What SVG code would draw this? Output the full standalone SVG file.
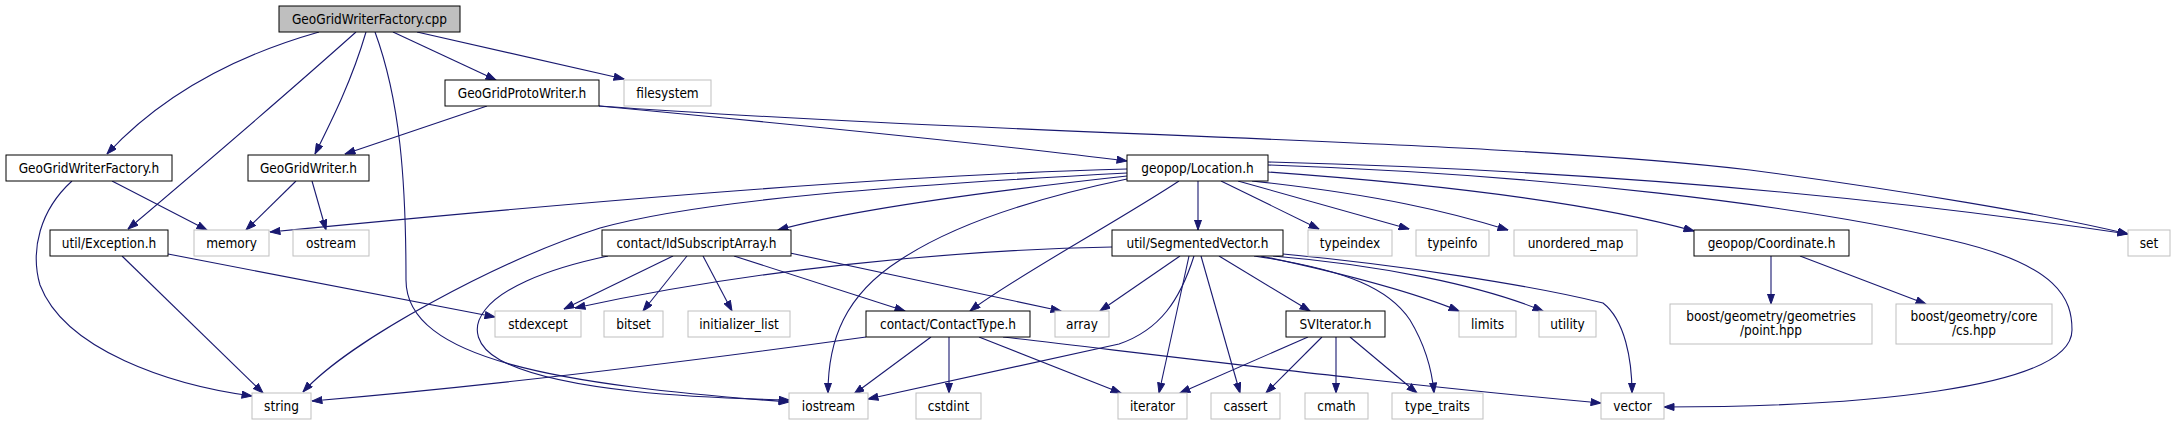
<svg xmlns="http://www.w3.org/2000/svg" width="2175" height="425" viewBox="0 0 2175 425">
<style>
.n rect{fill:#fff;stroke:#000;stroke-width:1}
.n.root rect{fill:#bfbfbf}
.n.ext rect{stroke:#bfbfbf}
.n text{font-family:"DejaVu Sans Condensed","Liberation Sans",sans-serif;font-size:13.5px;text-anchor:middle;fill:#000}
#edges path{fill:none;stroke:#191970;stroke-width:1.1;marker-end:url(#ah)}
</style>
<defs>
<marker id="ah" markerUnits="userSpaceOnUse" markerWidth="11" markerHeight="8" refX="10.5" refY="3.8" orient="auto">
<path d="M0.5,0.3 L10.5,3.8 L0.5,7.3 z" fill="#191970" stroke="#191970" stroke-width="1"/>
</marker>
</defs>
<rect width="2175" height="425" fill="#fff"/>
<g id="edges">
<path d="M319,32 C231,57 159,98 107,154"/>
<path d="M356,32 C300,82 180,185 128,229"/>
<path d="M366,32 C352,80 332,120 315,154"/>
<path d="M375,32 C400,100 406,180 406,280 C406,360 560,385 789,402"/>
<path d="M393,32 L496,80"/>
<path d="M417,32 L624,79"/>
<path d="M487,106 L345,154"/>
<path d="M599,106 C800,125 1000,145 1127,161"/>
<path d="M599,106 C1000,135 1500,140 1750,170 C1900,190 2050,215 2128,234"/>
<path d="M72,181 C40,210 30,250 40,285 C65,350 170,385 252,396"/>
<path d="M112,181 L207,230"/>
<path d="M296,181 L246,230"/>
<path d="M312,181 L326,230"/>
<path d="M122,256 L263,393"/>
<path d="M168,254 L495,317"/>
<path d="M1127,169 C900,175 600,200 270,232"/>
<path d="M1127,173 C900,185 700,200 600,228 C500,260 350,340 303,392"/>
<path d="M1127,176 C1000,190 850,210 778,230"/>
<path d="M1127,179 C1050,195 960,220 900,260 C845,295 828,340 828,393"/>
<path d="M1179,181 C1120,220 1010,280 970,311"/>
<path d="M1198,181 L1198,230"/>
<path d="M1221,181 L1319,229"/>
<path d="M1238,181 L1409,229"/>
<path d="M1252,181 C1380,195 1450,212 1508,230"/>
<path d="M1268,172 C1450,185 1600,205 1694,231"/>
<path d="M1268,165 C1550,175 1800,205 1950,240 C2060,265 2072,300 2072,330 C2072,390 1850,407 1664,407"/>
<path d="M1268,162 C1500,168 1800,185 2128,234"/>
<path d="M673,256 L564,309"/>
<path d="M687,256 L643,311"/>
<path d="M703,256 L732,311"/>
<path d="M734,256 L905,311"/>
<path d="M790,253 L1061,311"/>
<path d="M608,256 C470,285 455,335 500,360 C560,392 700,398 789,400"/>
<path d="M1112,247 C950,250 750,270 575,308"/>
<path d="M1180,256 L1100,311"/>
<path d="M1194,256 C1180,300 1160,330 1119,344 L868,399"/>
<path d="M1189,256 L1159,393"/>
<path d="M1201,256 L1240,393"/>
<path d="M1219,256 L1310,311"/>
<path d="M1254,256 C1350,270 1390,290 1410,320 C1425,345 1432,370 1434,393"/>
<path d="M1261,256 C1350,275 1420,295 1459,311"/>
<path d="M1273,256 C1380,265 1480,285 1543,311"/>
<path d="M1283,254 C1400,265 1530,285 1603,303 C1625,320 1632,360 1632,393"/>
<path d="M866,337 C700,360 500,385 312,401"/>
<path d="M931,337 L854,394"/>
<path d="M949,337 L949,393"/>
<path d="M979,337 L1121,393"/>
<path d="M1003,337 C1200,360 1400,385 1601,403"/>
<path d="M1308,337 L1180,393"/>
<path d="M1322,337 L1266,393"/>
<path d="M1336,337 L1336,393"/>
<path d="M1350,337 L1417,393"/>
<path d="M1771,256 L1771,304"/>
<path d="M1800,256 L1926,304"/>
</g>
<g id="n_cpp" class="n root"><rect x="279" y="6" width="181" height="26"/><text x="369.5" y="23.5">GeoGridWriterFactory.cpp</text></g>
<g id="n_proto" class="n"><rect x="445" y="80" width="154" height="26"/><text x="522" y="97.5">GeoGridProtoWriter.h</text></g>
<g id="n_filesystem" class="n ext"><rect x="624" y="80" width="87" height="26"/><text x="667.5" y="97.5">filesystem</text></g>
<g id="n_gwfh" class="n"><rect x="6" y="155" width="166" height="26"/><text x="89" y="172.5">GeoGridWriterFactory.h</text></g>
<g id="n_gwh" class="n"><rect x="248" y="155" width="121" height="26"/><text x="308.5" y="172.5">GeoGridWriter.h</text></g>
<g id="n_location" class="n"><rect x="1127" y="155" width="141" height="26"/><text x="1197.5" y="172.5">geopop/Location.h</text></g>
<g id="n_exception" class="n"><rect x="50" y="230" width="118" height="26"/><text x="109" y="247.5">util/Exception.h</text></g>
<g id="n_memory" class="n ext"><rect x="194" y="230" width="75" height="26"/><text x="231.5" y="247.5">memory</text></g>
<g id="n_ostream" class="n ext"><rect x="293" y="230" width="76" height="26"/><text x="331" y="247.5">ostream</text></g>
<g id="n_idsub" class="n"><rect x="602" y="230" width="189" height="26"/><text x="696.5" y="247.5">contact/IdSubscriptArray.h</text></g>
<g id="n_segvec" class="n"><rect x="1112" y="230" width="171" height="26"/><text x="1197.5" y="247.5">util/SegmentedVector.h</text></g>
<g id="n_typeindex" class="n ext"><rect x="1308" y="230" width="84" height="26"/><text x="1350" y="247.5">typeindex</text></g>
<g id="n_typeinfo" class="n ext"><rect x="1416" y="230" width="73" height="26"/><text x="1452.5" y="247.5">typeinfo</text></g>
<g id="n_umap" class="n ext"><rect x="1514" y="230" width="123" height="26"/><text x="1575.5" y="247.5">unordered_map</text></g>
<g id="n_coord" class="n"><rect x="1694" y="230" width="155" height="26"/><text x="1771.5" y="247.5">geopop/Coordinate.h</text></g>
<g id="n_set" class="n ext"><rect x="2128" y="230" width="42" height="26"/><text x="2149" y="247.5">set</text></g>
<g id="n_stdexcept" class="n ext"><rect x="495" y="311" width="86" height="26"/><text x="538" y="328.5">stdexcept</text></g>
<g id="n_bitset" class="n ext"><rect x="604" y="311" width="59" height="26"/><text x="633.5" y="328.5">bitset</text></g>
<g id="n_initlist" class="n ext"><rect x="688" y="311" width="102" height="26"/><text x="739" y="328.5">initializer_list</text></g>
<g id="n_contacttype" class="n"><rect x="866" y="311" width="164" height="26"/><text x="948" y="328.5">contact/ContactType.h</text></g>
<g id="n_array" class="n ext"><rect x="1055" y="311" width="54" height="26"/><text x="1082" y="328.5">array</text></g>
<g id="n_sviter" class="n"><rect x="1286" y="311" width="99" height="26"/><text x="1335.5" y="328.5">SVIterator.h</text></g>
<g id="n_limits" class="n ext"><rect x="1459" y="311" width="57" height="26"/><text x="1487.5" y="328.5">limits</text></g>
<g id="n_utility" class="n ext"><rect x="1539" y="311" width="57" height="26"/><text x="1567.5" y="328.5">utility</text></g>
<g id="n_point" class="n ext"><rect x="1670" y="304" width="202" height="40"/><text x="1771" y="321">boost/geometry/geometries</text><text x="1771" y="335">/point.hpp</text></g>
<g id="n_cs" class="n ext"><rect x="1896" y="304" width="156" height="40"/><text x="1974" y="321">boost/geometry/core</text><text x="1974" y="335">/cs.hpp</text></g>
<g id="n_string" class="n ext"><rect x="252" y="393" width="59" height="26"/><text x="281.5" y="410.5">string</text></g>
<g id="n_iostream" class="n ext"><rect x="789" y="393" width="79" height="26"/><text x="828.5" y="410.5">iostream</text></g>
<g id="n_cstdint" class="n ext"><rect x="916" y="393" width="65" height="26"/><text x="948.5" y="410.5">cstdint</text></g>
<g id="n_iterator" class="n ext"><rect x="1118" y="393" width="69" height="26"/><text x="1152.5" y="410.5">iterator</text></g>
<g id="n_cassert" class="n ext"><rect x="1211" y="393" width="69" height="26"/><text x="1245.5" y="410.5">cassert</text></g>
<g id="n_cmath" class="n ext"><rect x="1305" y="393" width="63" height="26"/><text x="1336.5" y="410.5">cmath</text></g>
<g id="n_typetraits" class="n ext"><rect x="1392" y="393" width="91" height="26"/><text x="1437.5" y="410.5">type_traits</text></g>
<g id="n_vector" class="n ext"><rect x="1601" y="393" width="63" height="26"/><text x="1632.5" y="410.5">vector</text></g>
</svg>
